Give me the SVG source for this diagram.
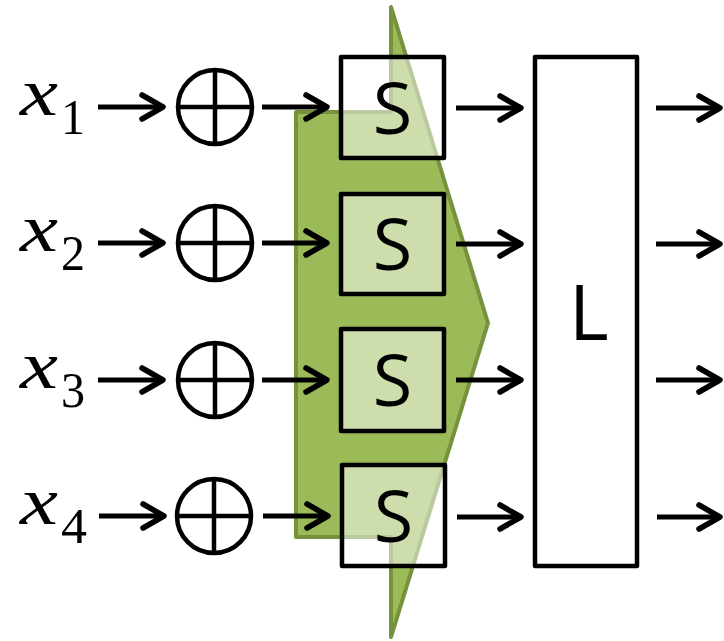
<svg xmlns="http://www.w3.org/2000/svg" width="724" height="641" viewBox="0 0 724 641">
<style>
.var{font-family:"Liberation Serif","DejaVu Serif",serif;font-style:italic;font-size:68px;fill:#000}
.sub{font-family:"Liberation Serif","DejaVu Serif",serif;font-size:50px;fill:#000}
.add circle,.add line{fill:none;stroke:#000;stroke-width:4.5}
.sbox rect{fill:#fff;fill-opacity:0.5;stroke:#000;stroke-width:4.5;stroke-linejoin:round}
.lbl{font-family:"Open Sans","Noto Sans","DejaVu Sans",sans-serif;font-size:72px;fill:#000}
.conn line{stroke:#000;stroke-width:5;marker-end:url(#arr)}
</style>
<defs>
<marker id="arr" markerUnits="userSpaceOnUse" viewBox="-26 -16 32 32" refX="0" refY="0" markerWidth="32" markerHeight="32" orient="auto" overflow="visible">
<path d="M-21,-12 L0,0 L-21,12" fill="none" stroke="#000" stroke-width="5.5" stroke-linecap="round" stroke-linejoin="round"/>
</marker>
</defs>
<rect width="724" height="641" fill="#fff"/>
<g id="green-shape">
<path d="M296,112 L391,112 L391,7 L488,323 L391,637 L391,537 L296,537 Z" fill="#9bbb59" stroke="#76923c" stroke-width="4" stroke-linejoin="round"/>
</g>
<g id="x1"><text class="var" x="20" y="115" textLength="38" lengthAdjust="spacingAndGlyphs">x</text><text class="sub" x="61" y="134" textLength="24" lengthAdjust="spacingAndGlyphs">1</text></g>
<g id="x2"><text class="var" x="20" y="251" textLength="38" lengthAdjust="spacingAndGlyphs">x</text><text class="sub" x="61" y="270" textLength="24" lengthAdjust="spacingAndGlyphs">2</text></g>
<g id="x3"><text class="var" x="20" y="388" textLength="38" lengthAdjust="spacingAndGlyphs">x</text><text class="sub" x="61" y="407" textLength="24" lengthAdjust="spacingAndGlyphs">3</text></g>
<g id="x4"><text class="var" x="20" y="524" textLength="38" lengthAdjust="spacingAndGlyphs">x</text><text class="sub" x="61" y="543" textLength="26" lengthAdjust="spacingAndGlyphs">4</text></g>
<g id="add1" class="add"><circle cx="215" cy="107" r="37"/><line x1="178" y1="107" x2="252" y2="107"/><line x1="215" y1="70" x2="215" y2="144"/></g>
<g id="add2" class="add"><circle cx="215" cy="243" r="37"/><line x1="178" y1="243" x2="252" y2="243"/><line x1="215" y1="206" x2="215" y2="280"/></g>
<g id="add3" class="add"><circle cx="215" cy="380" r="37"/><line x1="178" y1="380" x2="252" y2="380"/><line x1="215" y1="343" x2="215" y2="417"/></g>
<g id="add4" class="add"><circle cx="214" cy="516" r="37"/><line x1="177" y1="516" x2="251" y2="516"/><line x1="214" y1="479" x2="214" y2="553"/></g>
<g id="s1" class="sbox"><rect x="341" y="57" width="103" height="101"/><text class="lbl" x="392.5" y="134" text-anchor="middle">S</text></g>
<g id="s2" class="sbox"><rect x="341" y="194" width="103" height="100"/><text class="lbl" x="392.5" y="270" text-anchor="middle">S</text></g>
<g id="s3" class="sbox"><rect x="341" y="329" width="103" height="102"/><text class="lbl" x="392.5" y="406" text-anchor="middle">S</text></g>
<g id="s4" class="sbox"><rect x="342" y="465" width="103" height="101"/><text class="lbl" x="393.5" y="542" text-anchor="middle">S</text></g>
<g id="L" class="sbox"><rect x="535" y="57" width="102" height="509" style="fill-opacity:1"/><text class="lbl" x="569" y="340" style="font-size:76px">L</text></g>
<g id="connectors" class="conn">
<line x1="98" y1="107" x2="163" y2="107"/>
<line x1="98" y1="243" x2="163" y2="243"/>
<line x1="98" y1="380" x2="163" y2="380"/>
<line x1="99" y1="516" x2="164" y2="516"/>
<line x1="262" y1="107" x2="327" y2="107"/>
<line x1="262" y1="243" x2="327" y2="243"/>
<line x1="262" y1="380" x2="327" y2="380"/>
<line x1="263" y1="516" x2="328" y2="516"/>
<line x1="456" y1="108" x2="521" y2="108"/>
<line x1="456" y1="244" x2="521" y2="244"/>
<line x1="456" y1="380" x2="521" y2="380"/>
<line x1="457" y1="517" x2="521" y2="517"/>
<line x1="656" y1="108" x2="720" y2="108"/>
<line x1="656" y1="244" x2="720" y2="244"/>
<line x1="656" y1="380" x2="720" y2="380"/>
<line x1="657" y1="517" x2="720" y2="517"/>
</g>
</svg>
